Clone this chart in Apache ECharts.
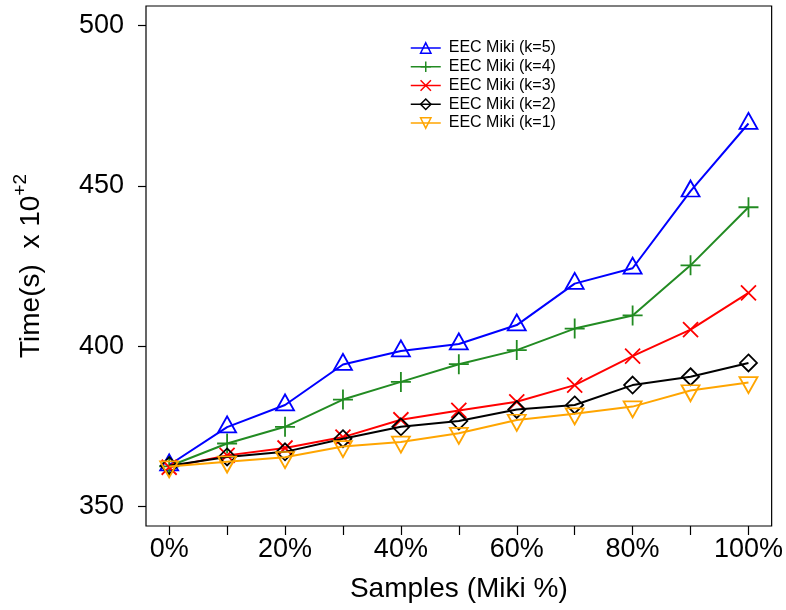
<!DOCTYPE html>
<html>
<head>
<meta charset="utf-8">
<script src="https://cdn.jsdelivr.net/npm/echarts@6/dist/echarts.min.js"></script>
<style>
html,body{margin:0;padding:0;background:#fff;}
#chart{width:786px;height:610px;}
</style>
</head>
<body>
<div id="chart"></div>
<script>
// Samples (Miki %)
const samples = [0, 10, 20, 30, 40, 50, 60, 70, 80, 90, 100];
const xTickValues = [0, 10, 20, 30, 40, 50, 60, 70, 80, 90, 100];
const xLabelValues = [0, 20, 40, 60, 80, 100];
const yTickValues = [350, 400, 450, 500];

// Time(s) x 10^2
const k5 = [363.0, 374.8, 381.7, 394.3, 398.5, 400.7, 406.6, 419.5, 424.3, 448.3, 469.4];
const k4 = [362.6, 369.7, 374.9, 383.4, 388.9, 394.4, 398.8, 405.5, 409.6, 425.2, 443.3];
const k3 = [362.3, 366.0, 368.3, 371.7, 377.1, 380.0, 382.7, 387.9, 396.9, 405.2, 416.6];
const k2 = [362.8, 365.5, 367.1, 371.2, 374.9, 376.7, 380.3, 381.7, 387.9, 390.5, 394.8];
const k1 = [362.5, 364.0, 365.4, 368.8, 370.2, 372.9, 377.0, 379.0, 381.2, 386.2, 388.7];

const seriesNames = ['EEC Miki (k=5)', 'EEC Miki (k=4)', 'EEC Miki (k=3)', 'EEC Miki (k=2)', 'EEC Miki (k=1)'];
const seriesValues = [k5, k4, k3, k2, k1];
const seriesColors = ['#0000FF', '#228B22', '#FF0000', '#000000', '#FFA500'];

const FONT = '"Liberation Sans", Arial, Helvetica, sans-serif';

const symbols = [
  {symbol: 'path://M0,-2 L1.7320508,1 L-1.7320508,1 Z', size: [18, 16], offset: [0, -2.7]},
  {symbol: 'path://M0,-1 L0,1 M-1,0 L1,0', size: [20, 20], offset: [0, 0]},
  {symbol: 'path://M-1,-1 L1,1 M-1,1 L1,-1', size: [15, 15], offset: [0, 0]},
  {symbol: 'path://M0,-1 L1,0 L0,1 L-1,0 Z', size: [17, 17], offset: [0, 0]},
  {symbol: 'path://M0,2 L1.7320508,-1 L-1.7320508,-1 Z', size: [18, 16], offset: [0, 2.7]}
];

const series = seriesNames.map((name, i) => ({
  name: name,
  type: 'line',
  data: samples.map((s, j) => [s, seriesValues[i][j]]),
  symbol: symbols[i].symbol,
  symbolSize: symbols[i].size,
  symbolOffset: symbols[i].offset,
  symbolKeepAspect: false,
  showAllSymbol: true,
  lineStyle: {color: seriesColors[i], width: 2},
  itemStyle: {color: 'transparent', borderColor: seriesColors[i], borderWidth: 1.8},
  emphasis: {disabled: true},
  animation: false,
  z: 2 + i
}));

const chart = echarts.init(document.getElementById('chart'), null, {renderer: 'canvas'});
chart.setOption({
  backgroundColor: '#ffffff',
  animation: false,
  grid: {
    left: 146, right: 14, top: 6, bottom: 84,
    show: true, borderColor: '#000', borderWidth: 1.2, backgroundColor: 'transparent'
  },
  legend: {
    data: seriesNames,
    orient: 'vertical',
    left: 405,
    top: 35,
    itemWidth: 30,
    itemHeight: 13,
    itemGap: 2.75,
    itemStyle: {borderWidth: 1.5},
    lineStyle: {width: 1.5},
    textStyle: {fontFamily: FONT, fontSize: 16, color: '#000', lineHeight: 16, padding: [0, 0, 0, 3]},
    selectedMode: false
  },
  xAxis: {
    type: 'value',
    min: -4,
    max: 104,
    name: 'Samples (Miki %)',
    nameLocation: 'middle',
    nameGap: 49,
    nameTextStyle: {fontFamily: FONT, fontSize: 28, color: '#000'},
    axisLine: {show: false, onZero: false},
    splitLine: {show: false},
    axisTick: {show: true, inside: false, length: 9, customValues: xTickValues, lineStyle: {color: '#000', width: 1.2}},
    axisLabel: {
      customValues: xLabelValues,
      margin: 10,
      fontFamily: FONT, fontSize: 27, color: '#000',
      formatter: v => v + '%'
    }
  },
  yAxis: {
    type: 'value',
    min: 344,
    max: 506,
    name: '{a|Time(s)  x 10}{b|+2}',
    nameLocation: 'middle',
    nameRotate: 90,
    nameGap: 95,
    nameTextStyle: {
      fontFamily: FONT, fontSize: 28, color: '#000',
      rich: {
        a: {fontFamily: FONT, fontSize: 28, color: '#000', lineHeight: 40},
        b: {fontFamily: FONT, fontSize: 19, color: '#000', lineHeight: 19, verticalAlign: 'top'}
      }
    },
    axisLine: {show: false, onZero: false},
    splitLine: {show: false},
    axisTick: {show: true, inside: false, length: 8, customValues: yTickValues, lineStyle: {color: '#000', width: 1.2}},
    axisLabel: {
      customValues: yTickValues,
      margin: 22,
      fontFamily: FONT, fontSize: 27, color: '#000'
    }
  },
  series: series
});
</script>
</body>
</html>
